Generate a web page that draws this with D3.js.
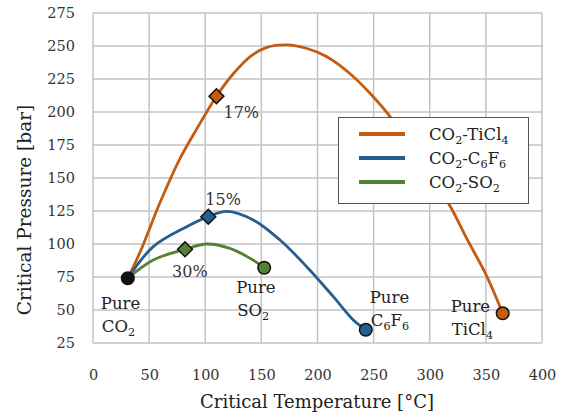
<!DOCTYPE html>
<html>
<head>
<meta charset="utf-8">
<script src="https://cdn.jsdelivr.net/npm/d3@7"></script>
<style>
  html, body { margin: 0; padding: 0; background: #fff; }
  svg { display: block; font-family: "DejaVu Serif", serif; }
</style>
</head>
<body>
<svg id="chart" width="562" height="419"></svg>
<script>
// Critical loci of CO2 binary mixtures: temperature (°C) vs pressure (bar)
const xTicks = [0, 50, 100, 150, 200, 250, 300, 350, 400];
const yTicks = [25, 50, 75, 100, 125, 150, 175, 200, 225, 250, 275];

const tiCl4Curve = [
  [31, 74], [42, 94], [60, 132], [77, 164], [93, 188], [110, 212], [125, 229],
  [140, 242], [155, 249], [172.5, 250.8], [190, 248.3], [208, 242], [229, 229],
  [247, 214], [266, 195], [316.5, 131], [333, 104], [350, 77], [365, 47.5]
];
const c6f6Curve = [
  [31, 74], [53.7, 98], [83.5, 113.1], [102.7, 120.7], [119.1, 124.7], [142.8, 118.2],
  [166.6, 103], [190.4, 82.8], [214.1, 60.1], [231.9, 42.4], [243, 35]
];
const so2Curve = [
  [31, 74], [53.7, 87.9], [82, 96], [101.3, 100], [122, 96.7], [139.9, 89.2], [152.5, 82]
];

// pure components [T, P]
const pureCO2 = [31, 74];
const pureSO2 = [152.5, 82];
const pureC6F6 = [243, 35];
const pureTiCl4 = [365, 47.5];

// marked mixture compositions [T, P, label]
const mixTiCl4 = [110, 212, "17%"];
const mixC6F6 = [102.7, 120.7, "15%"];
const mixSO2 = [82, 96, "30%"];

const colors = { tiCl4: "#C55A11", c6f6: "#255E91", so2: "#548235" };

const svg = d3.select("#chart");
const x = d3.scaleLinear().domain([0, 400]).range([93, 542]);
const y = d3.scaleLinear().domain([25, 275]).range([343, 13]);

// gridlines
const grid = svg.append("g").attr("stroke", "#c3c3c3").attr("stroke-width", 1.5);
grid.selectAll("line.v").data(xTicks).join("line")
  .attr("x1", d => x(d)).attr("x2", d => x(d))
  .attr("y1", y(25)).attr("y2", y(275));
grid.selectAll("line.h").data(yTicks).join("line")
  .attr("x1", x(0)).attr("x2", x(400))
  .attr("y1", d => y(d)).attr("y2", d => y(d));

// axes (labels only; lines come from the grid)
const xAxis = svg.append("g").attr("transform", `translate(0,${y(25) + 37})`)
  .call(d3.axisBottom(x).tickValues(xTicks).tickSize(0).tickPadding(0));
xAxis.select(".domain").remove();
xAxis.selectAll("text").attr("font-family", "DejaVu Serif").attr("font-size", 14.5)
  .attr("fill", "#333").attr("dy", 0);

const yAxis = svg.append("g").attr("transform", `translate(${x(0) - 18},0)`)
  .call(d3.axisLeft(y).tickValues(yTicks).tickSize(0).tickPadding(0));
yAxis.select(".domain").remove();
yAxis.selectAll("text").attr("font-family", "DejaVu Serif").attr("font-size", 14.5)
  .attr("fill", "#333");

// axis titles
svg.append("text").attr("x", 317).attr("y", 408).attr("text-anchor", "middle")
  .attr("font-size", 18).attr("fill", "#222").text("Critical Temperature [°C]");
svg.append("text").attr("transform", "translate(31,210) rotate(-90)")
  .attr("text-anchor", "middle").attr("font-size", 18.5).attr("fill", "#222")
  .text("Critical Pressure [bar]");

// curves
const line = d3.line().x(d => x(d[0])).y(d => y(d[1])).curve(d3.curveCatmullRom.alpha(0.5));
[[tiCl4Curve, colors.tiCl4], [c6f6Curve, colors.c6f6], [so2Curve, colors.so2]].forEach(([data, c]) => {
  svg.append("path").datum(data).attr("d", line).attr("fill", "none")
    .attr("stroke", c).attr("stroke-width", 2.8).attr("stroke-linejoin", "round");
});

// legend (drawn above the curves)
const legendItems = [
  { color: colors.tiCl4, parts: [["CO", 0], ["2", 1], ["-TiCl", 0], ["4", 1]] },
  { color: colors.c6f6, parts: [["CO", 0], ["2", 1], ["-C", 0], ["6", 1], ["F", 0], ["6", 1]] },
  { color: colors.so2, parts: [["CO", 0], ["2", 1], ["-SO", 0], ["2", 1]] }
];
const lg = svg.append("g");
lg.append("rect").attr("x", 338.5).attr("y", 117.5).attr("width", 190).attr("height", 86)
  .attr("fill", "#fff").attr("stroke", "#555").attr("stroke-width", 1);

// text with subscript runs; each part is [string, isSubscript]
function richText(sel, parts, size) {
  parts.forEach(([t, sub], i) => {
    const prev = i > 0 ? parts[i - 1][1] : 0;
    const ts = sel.append("tspan").text(t)
      .attr("dy", sub && !prev ? 4 : (!sub && prev ? -4 : 0));
    if (sub) ts.attr("font-size", size * 0.68);
  });
}

legendItems.forEach((it, i) => {
  const yy = 134 + i * 24;
  lg.append("line").attr("x1", 359).attr("x2", 405).attr("y1", yy).attr("y2", yy)
    .attr("stroke", it.color).attr("stroke-width", 4);
  const t = lg.append("text").attr("x", 429).attr("y", yy + 5.5)
    .attr("font-size", 16.5).attr("fill", "#222");
  richText(t, it.parts, 16.5);
});

// diamonds at marked compositions
const diamond = d3.symbol().type(d3.symbolSquare).size(110);
[[mixTiCl4, colors.tiCl4], [mixC6F6, colors.c6f6], [mixSO2, colors.so2]].forEach(([m, c]) => {
  svg.append("path").attr("d", diamond)
    .attr("transform", `translate(${x(m[0])},${y(m[1])}) rotate(45)`)
    .attr("fill", c).attr("stroke", "#111").attr("stroke-width", 1.5);
});

// pure-component circles
[[pureCO2, "#111"], [pureSO2, colors.so2], [pureC6F6, colors.c6f6], [pureTiCl4, colors.tiCl4]].forEach(([p, c]) => {
  svg.append("circle").attr("cx", x(p[0])).attr("cy", y(p[1])).attr("r", 6.3)
    .attr("fill", c).attr("stroke", "#111").attr("stroke-width", 1.5);
});

// composition labels
const lab = svg.append("g").attr("font-size", 16).attr("fill", "#333");
lab.append("text").attr("x", x(mixTiCl4[0]) + 7).attr("y", y(mixTiCl4[1]) + 22).text(mixTiCl4[2]);
lab.append("text").attr("x", x(mixC6F6[0]) - 3).attr("y", y(mixC6F6[1]) - 12).text(mixC6F6[2]);
lab.append("text").attr("x", x(mixSO2[0]) - 13).attr("y", y(mixSO2[1]) + 28).text(mixSO2[2]);

// pure-component labels
const pureLabels = [
  { p: pureCO2, dx: -27, dy: 31, parts: [["CO", 0], ["2", 1]] },
  { p: pureSO2, dx: -28, dy: 25, parts: [["SO", 0], ["2", 1]] },
  { p: pureC6F6, dx: 4, dy: -27, parts: [["C", 0], ["6", 1], ["F", 0], ["6", 1]] },
  { p: pureTiCl4, dx: -52, dy: -1, parts: [["TiCl", 0], ["4", 1]] }
];
pureLabels.forEach(l => {
  const px = x(l.p[0]) + l.dx, py = y(l.p[1]) + l.dy;
  svg.append("text").attr("x", px).attr("y", py).attr("font-size", 16.5).attr("fill", "#222").text("Pure");
  const t = svg.append("text").attr("x", px + 1).attr("y", py + 23).attr("font-size", 16.5).attr("fill", "#222");
  richText(t, l.parts, 16.5);
});
</script>
</body>
</html>
